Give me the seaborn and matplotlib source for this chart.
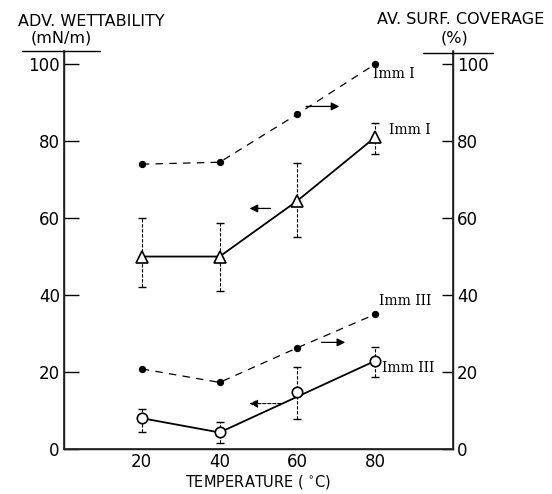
import matplotlib
matplotlib.use("Agg")
import matplotlib.pyplot as plt
import seaborn as sns
import pandas as pd
from matplotlib.lines import Line2D

# ---- data ----
temps = [20, 40, 60, 80]
imm1_coverage = [74, 74.5, 87, 100]
imm1_wett = [50, 50, 64.5, 81]
imm1_wett_hi = [60, 58.7, 74.2, 84.7]
imm1_wett_lo = [42, 41, 55, 76.6]
imm3_coverage = [20.8, 17.3, 26.3, 35]
imm3_wett = [8, 4.3, 14.8, 22.9]
imm3_wett_hi = [10.4, 7.1, 21.4, 26.4]
imm3_wett_lo = [4.5, 1.6, 7.7, 18.8]
imm3_wett_line_x = [20, 40, 80]
imm3_wett_line = [8, 4.3, 22.9]
x_ticks = [20, 40, 60, 80]
y_ticks = [0, 20, 40, 60, 80, 100]

sns.set_theme(style="white")
plt.rcParams['font.family'] = ['DejaVu Sans']
plt.rcParams['text.color'] = 'black'
plt.rcParams['axes.labelcolor'] = 'black'

fig = plt.figure(figsize=(5.52, 4.94), dpi=100)
ax = fig.add_axes([64/552, 1-449/494, (453-64)/552, (449-51)/494])

df = pd.DataFrame({"T": temps, "c1": imm1_coverage, "w1": imm1_wett,
                   "c3": imm3_coverage, "w3": imm3_wett})
df3 = pd.DataFrame({"T": imm3_wett_line_x, "w": imm3_wett_line})

# dashed coverage lines
for col in ["c1", "c3"]:
    sns.lineplot(data=df, x="T", y=col, ax=ax, color="black", lw=0.9,
                 linestyle=(0, (6, 5)), marker="o", markersize=4.5,
                 markeredgecolor="black", markerfacecolor="black", zorder=3)

# solid wettability lines
sns.lineplot(data=df, x="T", y="w1", ax=ax, color="black", lw=1.3, zorder=3)
sns.lineplot(data=df3, x="T", y="w", ax=ax, color="black", lw=1.3, zorder=3)

# error bars
for vals, lo, hi in [(imm1_wett, imm1_wett_lo, imm1_wett_hi),
                     (imm3_wett, imm3_wett_lo, imm3_wett_hi)]:
    err = [[v - l for v, l in zip(vals, lo)], [h - v for v, h in zip(vals, hi)]]
    eb = ax.errorbar(temps, vals, yerr=err, fmt="none", ecolor="black",
                     elinewidth=0.8, capsize=3, capthick=1.0, zorder=2)
    eb[2][0].set_linestyle((0, (3, 1.5)))

# markers for wettability
ax.plot(temps, imm1_wett, linestyle="none", marker="^", markersize=9,
        markerfacecolor="white", markeredgecolor="black", markeredgewidth=1.2, zorder=4)
ax.plot(temps, imm3_wett, linestyle="none", marker="o", markersize=7.5,
        markerfacecolor="white", markeredgecolor="black", markeredgewidth=1.2, zorder=4)

ax.set_xlim(0, 100)
ax.set_ylim(0, 103.4)
ax.set_xticks(x_ticks)
ax.set_yticks(y_ticks)
ax.set_xlabel("TEMPERATURE ( $^{\\circ}$C)", fontsize=10.5, labelpad=1)
ax.set_ylabel("")
ax.tick_params(axis="x", direction="in", length=6, width=1, labelsize=12, pad=3,
               colors="black")
ax.tick_params(axis="y", direction="in", length=11, width=1, labelsize=12, pad=3,
               colors="black")
for s in ["left", "right", "bottom"]:
    ax.spines[s].set_visible(True)
    ax.spines[s].set_color("black")
    ax.spines[s].set_linewidth(1.0)
ax.spines["top"].set_visible(False)

ax2 = ax.twinx()
ax2.set_ylim(0, 103.4)
ax2.set_yticks(y_ticks)
ax2.tick_params(axis="y", direction="in", length=8, width=1, labelsize=12, pad=3,
                colors="black")
ax2.spines["top"].set_visible(False)
ax2.grid(False)

# arrows
arrow_kw = dict(arrowstyle="-|>", color="black", lw=0.9, mutation_scale=12)
ax.annotate("", xy=(71.5, 89.0), xytext=(61.5, 89.0), arrowprops=arrow_kw)
ax.annotate("", xy=(47.0, 62.5), xytext=(53.8, 62.5), arrowprops=arrow_kw)
ax.annotate("", xy=(73.0, 27.7), xytext=(65.5, 27.7), arrowprops=arrow_kw)
ax.annotate("", xy=(47.0, 11.8), xytext=(56.5, 11.8),
            arrowprops=dict(arrowstyle="-|>", color="black", lw=0.8, mutation_scale=12,
                            linestyle=(0, (3, 1.5))))

# series labels
lab_kw = dict(fontsize=10, family="DejaVu Serif", color="black", va="center", ha="left")
ax.text(79.5, 97.5, "Imm I", **lab_kw)
ax.text(83.5, 83.0, "Imm I", **lab_kw)
ax.text(81.0, 38.5, "Imm III", **lab_kw)
ax.text(81.8, 21.0, "Imm III", **lab_kw)

# axis titles at top
fig.text(91/552, 1-21/494, "ADV. WETTABILITY", ha="center", va="center", fontsize=11.5)
fig.text(61/552, 1-38/494, "(mN/m)", ha="center", va="center", fontsize=11.5)
fig.text(461/552, 1-20/494, "AV. SURF. COVERAGE", ha="center", va="center", fontsize=11.5)
fig.text(454/552, 1-38/494, "(%)", ha="center", va="center", fontsize=11.5)
fig.add_artist(Line2D([22/552, 100/552], [1-51/494, 1-51/494], color="black", lw=1.0))
fig.add_artist(Line2D([423/552, 493/552], [1-53/494, 1-53/494], color="black", lw=1.0))

fig.savefig("out.png", dpi=100)
